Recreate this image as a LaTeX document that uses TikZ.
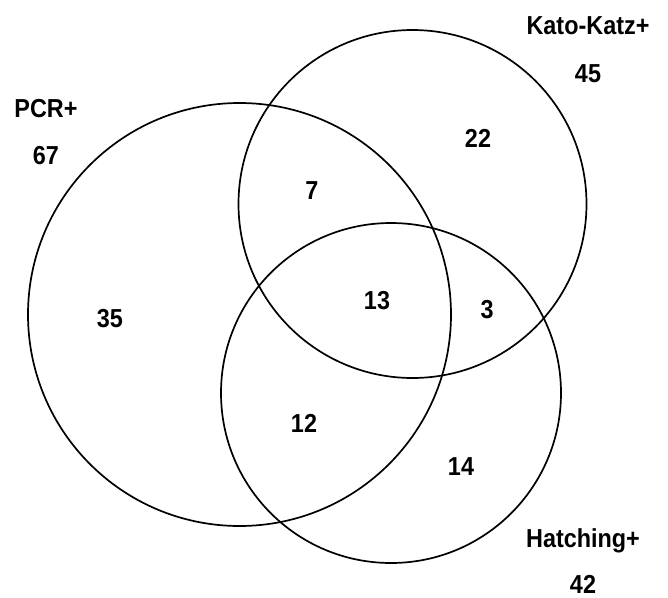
\documentclass[tikz,border=0pt]{standalone}
\usepackage{fontspec}
\setmainfont{Liberation Sans}[FakeStretch=0.9]
\begin{document}
\begin{tikzpicture}[x=1pt,y=-1pt]
	% Styles
	\tikzstyle{cercle}=[draw,circle,line width=1.7pt,inner sep=0pt]
	\tikzstyle{titre}=[font=\fontsize{26}{30}\selectfont\bfseries,inner sep=0pt,text height=18pt,text depth=0pt]
	\tikzstyle{effectif}=[titre]
	% Dimensions
	\def\DiametrePCR{423pt}
	\def\DiametreKato{348pt}
	\def\DiametreHatching{340pt}
	\useasboundingbox (0,0) rectangle (668,597);
	% Cercles
	\node[cercle,minimum size=\DiametrePCR] (PCR) at (239.5,314.5) {};
	\node[cercle,minimum size=\DiametreKato] (Kato) at (412.5,204) {};
	\node[cercle,minimum size=\DiametreHatching] (Hatching) at (391,393) {};
	% Titres
	\node[titre] (tPCR) at (46,108) {PCR+};
	\node[titre] (nPCR) at (46,155) {67};
	\node[titre] (tKato) at (588,25) {Kato-Katz+};
	\node[titre] (nKato) at (588,73) {45};
	\node[titre] (tHatching) at (583,538) {Hatching+};
	\node[titre] (nHatching) at (583,584) {42};
	% Effectifs
	\node[effectif] (PcrSeul) at (110,318) {35};
	\node[effectif] (KatoSeul) at (478,138) {22};
	\node[effectif] (HatchingSeul) at (461,466) {14};
	\node[effectif] (PcrKato) at (312,190) {7};
	\node[effectif] (PcrHatching) at (304,423) {12};
	\node[effectif] (KatoHatching) at (487,309) {3};
	\node[effectif] (Tous) at (377,300) {13};
\end{tikzpicture}
\end{document}
